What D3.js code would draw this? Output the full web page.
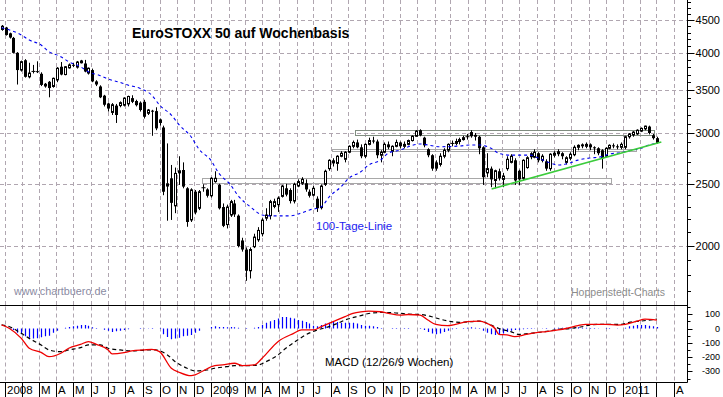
<!DOCTYPE html>
<html><head><meta charset="utf-8">
<script src="https://cdn.jsdelivr.net/npm/d3@7"></script>
<style>body{margin:0;background:#fff;}svg{display:block;font-family:Arial,"Liberation Sans",sans-serif;}</style>
</head><body><svg id="c" width="723" height="397"></svg>
<script>
// ---------------- data ----------------
const firstWeek = "2007-12-26";
const weekOpen = [4350,4380,4290,4220,4000,3760,3895,3670,3738,3745,3710,3580,3605,3545,3630,3805,3700,3790,3832,3800,3860,3850,3720,3760,3610,3545,3430,3335,3230,3310,3310,3315,3330,3400,3365,3345,3355,3220,3250,3245,3150,3060,2480,2550,2310,2600,2627,2460,2196,2430,2290,2455,2450,2395,2520,2490,2300,2160,2235,2330,2230,2040,1975,1830,1995,2045,2090,2210,2230,2305,2320,2390,2460,2445,2350,2480,2505,2505,2430,2400,2370,2295,2495,2640,2720,2690,2760,2730,2800,2860,2900,2850,2760,2880,2920,2910,2770,2800,2880,2810,2860,2900,2860,2880,2920,2965,3030,2950,2830,2770,2700,2680,2760,2820,2880,2890,2910,2930,2950,3010,2980,2960,2850,2600,2640,2530,2615,2540,2640,2700,2720,2620,2550,2650,2790,2750,2790,2720,2710,2640,2770,2810,2790,2700,2740,2775,2850,2880,2860,2880,2850,2840,2820,2760,2840,2870,2860,2850,2850,2960,2980,2990,3020,3045,3070,2975,2945];
const weekHigh = [4420,4390,4300,4235,4010,3890,3910,3860,3830,3880,3730,3590,3615,3660,3800,3870,3815,3850,3860,3885,3900,3900,3795,3780,3625,3560,3440,3345,3340,3330,3360,3410,3430,3435,3380,3360,3380,3270,3260,3290,3160,3080,2890,2675,2650,2760,2700,2470,2460,2445,2445,2495,2460,2560,2615,2500,2330,2320,2360,2360,2240,2060,1990,1990,2090,2140,2210,2290,2360,2370,2390,2490,2500,2460,2510,2540,2560,2540,2450,2480,2390,2495,2630,2730,2740,2770,2810,2810,2870,2920,2930,2880,2890,2950,2960,2930,2820,2900,2910,2870,2930,2910,2910,2930,2975,3030,3040,2960,2840,2780,2720,2790,2840,2890,2920,2940,2950,2970,2990,3030,3000,2970,2860,2790,2660,2630,2640,2600,2760,2780,2740,2630,2730,2760,2800,2830,2800,2780,2730,2790,2810,2830,2800,2760,2800,2870,2880,2890,2900,2890,2860,2850,2830,2850,2880,2890,2880,2900,2970,3000,3020,3040,3060,3080,3080,2990,2960];
const weekLow = [4330,4255,4210,3990,3570,3740,3660,3650,3715,3720,3550,3530,3410,3530,3600,3690,3690,3780,3800,3780,3850,3730,3700,3600,3550,3400,3300,3240,3200,3110,3290,3300,3300,3340,3300,3240,3160,3200,2970,3030,3080,2400,2190,2196,2250,2490,2460,2143,2180,2240,2275,2430,2380,2380,2510,2280,2140,2130,2220,2220,1990,1960,1765,1780,1985,2030,2070,2190,2200,2290,2260,2380,2390,2330,2330,2470,2490,2430,2380,2390,2260,2280,2480,2620,2660,2620,2750,2700,2790,2840,2840,2740,2740,2870,2890,2740,2700,2790,2830,2760,2850,2840,2840,2870,2910,2960,2965,2850,2750,2620,2620,2660,2740,2800,2860,2870,2880,2920,2930,2950,2920,2780,2490,2560,2470,2460,2530,2470,2620,2690,2490,2490,2530,2640,2730,2740,2700,2700,2620,2620,2750,2760,2730,2680,2720,2760,2820,2840,2840,2820,2780,2770,2640,2750,2830,2840,2830,2830,2830,2940,2960,2980,3010,3030,2985,2930,2885];
const weekClose = [4400,4265,4225,4000,3760,3875,3670,3720,3742,3735,3565,3545,3525,3650,3785,3700,3805,3830,3826,3870,3885,3740,3785,3610,3570,3410,3320,3275,3320,3200,3345,3400,3420,3355,3315,3258,3180,3258,3240,3050,3110,2430,2500,2335,2595,2620,2475,2180,2446,2255,2430,2465,2395,2550,2550,2290,2150,2300,2345,2240,2000,1975,1830,1975,2065,2115,2195,2235,2345,2345,2375,2480,2405,2350,2495,2520,2540,2450,2395,2460,2290,2480,2615,2720,2690,2760,2790,2800,2860,2900,2850,2760,2880,2920,2910,2770,2800,2880,2850,2860,2900,2860,2880,2920,2965,3020,2975,2870,2770,2640,2640,2760,2820,2880,2890,2910,2930,2950,2960,2965,2960,2840,2560,2640,2540,2620,2550,2570,2730,2760,2530,2540,2720,2745,2750,2800,2720,2760,2640,2780,2790,2780,2760,2745,2780,2850,2870,2860,2880,2850,2840,2790,2740,2840,2870,2860,2850,2880,2960,2990,3010,3030,3050,3075,3000,2945,2895];
const histValue = [0,0,-5,-10,-30,-40,-55,-65,-70,-68,-62,-55,-50,-30,-15,0,5,10,15,20,25,25,20,8,3,0,-8,-15,-25,-20,-15,-10,-5,0,0,3,2,-2,-3,0,-3,-40,-60,-75,-70,-65,-55,-50,-45,-30,-15,0,0,10,15,10,10,8,10,8,5,0,-3,0,5,10,25,40,50,60,70,80,80,75,70,60,55,45,35,20,15,25,35,40,45,45,40,40,40,40,35,25,20,20,15,10,3,0,0,-3,-3,-2,-3,-3,0,0,-3,-10,-25,-35,-40,-35,-25,-15,-5,-3,0,3,5,8,5,3,-15,-30,-40,-45,-40,-35,-25,-15,-10,-8,-5,-3,-3,-2,0,-2,-3,0,3,5,5,5,8,5,8,5,5,3,3,2,0,-3,-3,0,-2,0,5,15,20,25,25,25,20,15,10];

const maWeek  = [0,2,5,7,10,12,15,17,20,22,25,27,30,32,35,38,40,43,45,48,50,53,55,58,60,63,66,68,71,73,76,78,81,83,86,88,91,93,96,98,101,103,106,111,116,119,121,124,126,129,134,136,139,141,144,146,149,152,154,157,159,162,164,166];
const maValue = [4378,4342,4265,4188,4114,4016,3945,3874,3805,3738,3685,3641,3598,3563,3522,3438,3316,3200,3088,2960,2830,2722,2599,2490,2393,2302,2236,2228,2228,2228,2252,2276,2302,2386,2474,2552,2610,2674,2722,2792,2822,2856,2884,2856,2863,2874,2874,2840,2788,2771,2771,2742,2694,2674,2694,2722,2742,2756,2782,2796,2816,2840,2874,2891];

const macdWeek  = [0,2,5,7,10,12,15,17,20,22,24,27,28,31,33,36,38,40,43,45,48,49,51,54,56,59,61,64,66,70,74,76,79,81,84,87,89,91,93,96,98,101,103,106,108,110,113,115,118,121,123,125,126,128,130,133,136,138,141,143,146,148,151,153,156,158,161,163,166];
const macdValue = [25,0,-69,-138,-167,-197,-173,-138,-111,-92,-111,-150,-178,-169,-157,-150,-146,-162,-278,-306,-330,-325,-297,-260,-255,-243,-260,-255,-208,-92,-34,-10,-10,13,48,83,106,117,122,117,106,94,98,94,59,29,20,29,48,52,35,0,-41,-45,-57,-41,-27,-22,-10,0,20,29,29,29,24,29,52,66,59];
const signalWeek  = [0,2,5,7,10,12,15,17,20,22,25,27,30,33,37,39,42,44,47,49,52,54,57,59,62,65,67,70,72,75,77,80,82,85,87,91,93,96,98,101,103,106,109,111,114,116,119,121,124,126,129,131,134,136,139,141,144,147,149,152,154,157,159,162,164,166];
const signalValue = [25,12,-34,-69,-115,-150,-162,-150,-134,-115,-115,-138,-150,-157,-150,-150,-185,-232,-278,-297,-290,-278,-267,-260,-260,-255,-232,-185,-138,-80,-45,-10,5,35,59,90,105,112,112,106,100,98,82,66,48,43,48,52,24,0,-22,-41,-34,-27,-17,-6,0,12,24,29,29,29,43,52,59,66];

const zoneStart = ["2009-09-13","2009-08-03","2008-12-15"];
const zoneEnd   = ["2011-02-26","2011-01-24","2010-12-10"];
const zoneLow   = [2975,2806,2512];
const zoneHigh  = [3030,2830,2553];

const trendDates  = ["2010-05-13","2011-03-10"];
const trendValues = [2454,2905];

const priceTicks = [2000,2500,3000,3500,4000,4500];
const priceMinorFrom = 1700, priceMinorTo = 4800, priceMinorStep = 100;
const macdTicks = [100,0,-100,-200,-300];
const macdMinorFrom = -350, macdMinorTo = 150, macdMinorStep = 50;
const monthLetters = ["", "", "M", "A", "M", "J", "J", "A", "S", "O", "N", "D"];
const hiddenMonthLabels = ["2011-03"];
const firstMonth = "2008-01-01", lastMonth = "2011-04-01";

const titleText = "EuroSTOXX 50 auf Wochenbasis";
const maLabel = "100-Tage-Linie";
const macdLabel = "MACD (12/26/9 Wochen)";
const sourceLeft = "www.chartbuero.de";
const sourceRight = "Hoppenstedt-Charts";

// ---------------- chart ----------------
const W = 723, H = 397;
const axisX = 687.5;
const mainTop = 0, mainBottom = 305.5, macdBottom = 382.5;
const gridColor = "#b0a6b0";
const parse = d3.timeParse("%Y-%m-%d");

const svg = d3.select("#c");
svg.append("rect").attr("width", W).attr("height", H).attr("fill", "#fff");

const x = d3.scaleTime().domain([new Date(2008,0,1), new Date(2011,0,1)]).range([5, 623]);
const y = d3.scaleLog().domain([2000, 4500]).range([246, 20]);
const ym = d3.scaleLinear().domain([0, 100]).range([328.5, 314.2]);

const start = parse(firstWeek);
const wDate = i => d3.timeDay.offset(start, 7 * Math.round(i));
const weeks = weekClose.map((c, i) => ({d: wDate(i), o: weekOpen[i], h: weekHigh[i], l: weekLow[i], c: c, hist: histValue[i]}));

const defs = svg.append("defs");
defs.append("clipPath").attr("id","cm").append("rect").attr("x",0).attr("y",mainTop).attr("width",axisX).attr("height",mainBottom-mainTop);
defs.append("clipPath").attr("id","cd").append("rect").attr("x",0).attr("y",mainBottom+0.5).attr("width",axisX).attr("height",macdBottom-mainBottom-1);

const months = d3.timeMonth.range(parse(firstMonth), d3.timeDay.offset(parse(lastMonth),1));

// grid
const grid = svg.append("g").attr("stroke", gridColor).attr("stroke-dasharray", "4,3").attr("stroke-width", 1);
priceTicks.forEach(p => {
  const yy = Math.round(y(p)) + 0.5;
  grid.append("line").attr("x1", 0).attr("x2", axisX).attr("y1", yy).attr("y2", yy);
});
months.forEach(m => {
  const xx = Math.round(x(m)) + 0.5;
  if (xx > axisX) return;
  grid.append("line").attr("x1", xx).attr("x2", xx).attr("y1", mainTop).attr("y2", mainBottom);
  grid.append("line").attr("x1", xx).attr("x2", xx).attr("y1", mainBottom + 1).attr("y2", macdBottom);
});

// zones
const gMain = svg.append("g").attr("clip-path","url(#cm)");
zoneStart.forEach((s, i) => {
  const x0 = x(parse(s)), x1 = x(parse(zoneEnd[i]));
  const y0 = y(zoneHigh[i]), y1 = y(zoneLow[i]);
  gMain.append("rect").attr("x", Math.round(x0)+0.5).attr("y", Math.round(y0)+0.5)
    .attr("width", Math.round(x1-x0)).attr("height", Math.max(2, Math.round(y1-y0)))
    .attr("fill", "none").attr("stroke", i === 0 ? "#7f8c7f" : "#a8a8a8").attr("stroke-width", 1);
});

// candles
const cg = gMain.append("g");
weeks.forEach(w => {
  const cx = Math.round(x(w.d)) + 0.5;
  cg.append("line").attr("x1", cx).attr("x2", cx).attr("y1", y(w.h)).attr("y2", y(w.l)).attr("stroke", "#000").attr("stroke-width", 1);
  const top = y(Math.max(w.o, w.c)), bot = y(Math.min(w.o, w.c));
  const hgt = Math.max(1, bot - top);
  if (w.c < w.o) {
    cg.append("rect").attr("x", cx - 1.5).attr("y", top).attr("width", 3).attr("height", hgt).attr("fill", "#000");
  } else if (bot - top < 1.5) {
    cg.append("line").attr("x1", cx - 2).attr("x2", cx + 2).attr("y1", top).attr("y2", top).attr("stroke", "#000");
  } else {
    cg.append("rect").attr("x", cx - 1).attr("y", top).attr("width", 2).attr("height", hgt).attr("fill", "#fff").attr("stroke", "#000").attr("stroke-width", 1);
  }
});

// moving average
const maLine = d3.line().x((d,i) => x(wDate(maWeek[i]))).y(d => y(d)).curve(d3.curveMonotoneX);
gMain.append("path").attr("d", maLine(maValue)).attr("fill", "none").attr("stroke", "#0000ee").attr("stroke-width", 1.1).attr("stroke-dasharray", "3,3");

// trendline
gMain.append("line").attr("x1", x(parse(trendDates[0]))).attr("y1", y(trendValues[0]))
  .attr("x2", x(parse(trendDates[1]))).attr("y2", y(trendValues[1]))
  .attr("stroke", "#3ccc3c").attr("stroke-width", 1.6);

// texts
svg.append("text").attr("x", 132).attr("y", 38).attr("font-size", 14).attr("font-weight", "bold").attr("fill", "#000").text(titleText);
svg.append("text").attr("x", 316).attr("y", 230).attr("font-size", 11.5).attr("fill", "#1c1cf0").text(maLabel);
svg.append("text").attr("x", 14).attr("y", 295).attr("font-size", 10.8).attr("fill", "#8a8aa2").text(sourceLeft);
svg.append("text").attr("x", 665).attr("y", 296).attr("text-anchor","end").attr("font-size", 10.5).attr("fill", "#8c8c8c").text(sourceRight);
svg.append("text").attr("x", 325).attr("y", 366).attr("font-size", 11.5).attr("fill", "#000").text(macdLabel);

// MACD panel
const gM = svg.append("g").attr("clip-path","url(#cd)");
weeks.forEach(w => {
  if (!w.hist) return;
  const cx = Math.round(x(w.d)) + 0.5;
  gM.append("line").attr("x1", cx).attr("x2", cx).attr("y1", ym(0)).attr("y2", ym(w.hist)).attr("stroke", "#0000ff").attr("stroke-width", 1.2);
});
const sigLine = d3.line().x((d,i) => x(wDate(signalWeek[i]))).y(d => ym(d)).curve(d3.curveMonotoneX);
gM.append("path").attr("d", sigLine(signalValue)).attr("fill","none").attr("stroke","#000").attr("stroke-width",1.2).attr("stroke-dasharray","4,3");
const macdLine = d3.line().x((d,i) => x(wDate(macdWeek[i]))).y(d => ym(d)).curve(d3.curveMonotoneX);
gM.append("path").attr("d", macdLine(macdValue)).attr("fill","none").attr("stroke","#ee0000").attr("stroke-width",1.3);

// frame lines
svg.append("line").attr("x1",0).attr("x2",axisX).attr("y1",mainBottom).attr("y2",mainBottom).attr("stroke","#000");
svg.append("line").attr("x1",0).attr("x2",axisX).attr("y1",macdBottom).attr("y2",macdBottom).attr("stroke","#000");
svg.append("line").attr("x1",axisX).attr("x2",axisX).attr("y1",0).attr("y2",macdBottom).attr("stroke","#000");

// right axis main
const ax = svg.append("g");
for (let p = priceMinorFrom; p <= priceMinorTo; p += priceMinorStep) {
  const yy = Math.round(y(p)) + 0.5;
  if (yy < 0 || yy > mainBottom - 2) continue;
  const major = priceTicks.includes(p);
  ax.append("line").attr("x1", axisX).attr("x2", axisX + (major ? 7 : 3.5)).attr("y1", yy).attr("y2", yy).attr("stroke", "#000");
}
priceTicks.forEach(p => {
  ax.append("text").attr("x", 720).attr("y", y(p) + 4).attr("text-anchor","end").attr("font-size", 11).attr("fill","#000").text(p);
});
// right axis macd
for (let v = macdMinorFrom; v <= macdMinorTo; v += macdMinorStep) {
  const yy = Math.round(ym(v)) + 0.5;
  if (yy < mainBottom + 2 || yy > macdBottom - 1) continue;
  const major = macdTicks.includes(v);
  ax.append("line").attr("x1", axisX).attr("x2", axisX + (major ? 5 : 3)).attr("y1", yy).attr("y2", yy).attr("stroke", "#000");
}
macdTicks.forEach(v => {
  ax.append("text").attr("x", 720).attr("y", ym(v) + 3).attr("text-anchor","end").attr("font-size", 9).attr("fill","#000").text(v);
});

// month label row
const fmtKey = d3.timeFormat("%Y-%m");
months.forEach(m => {
  const xx = Math.round(x(m)) + 0.5;
  if (xx > axisX) return;
  ax.append("line").attr("x1", xx).attr("x2", xx).attr("y1", macdBottom).attr("y2", H).attr("stroke", "#000");
  if (hiddenMonthLabels.includes(fmtKey(m))) return;
  const lbl = m.getMonth() === 0 ? String(m.getFullYear()) : monthLetters[m.getMonth()];
  if (lbl) ax.append("text").attr("x", xx + 1.5).attr("y", 394.3).attr("font-size", 11.5).attr("fill", "#000").text(lbl);
});
</script></body></html>
